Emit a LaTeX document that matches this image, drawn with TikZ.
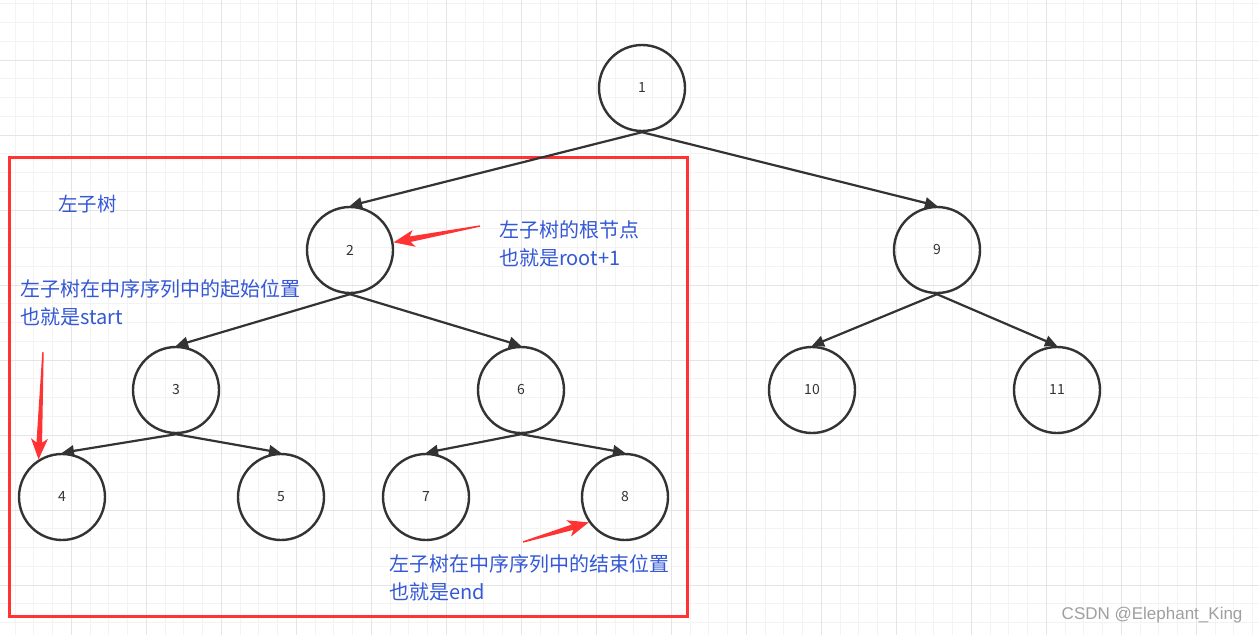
\documentclass[tikz,border=0pt]{standalone}
\usepackage{fontspec}
\setmainfont{Noto Sans CJK SC}
\newfontfamily\markfont{Liberation Sans}
\usetikzlibrary{arrows.meta,calc}
\definecolor{lineGray}{RGB}{51,51,51}
\definecolor{boxRed}{RGB}{255,51,51}
\definecolor{noteBlue}{RGB}{52,88,214}
\definecolor{gridMinor}{RGB}{243,243,243}
\definecolor{gridMajor}{RGB}{229,229,229}

% tapered red pointer from a free end to a point on a node
\newcommand{\hintarrow}[2]{%
  \fill[boxRed] let \p1=(#1), \p2=(#2),
    \n1={atan2(\y2-\y1,\x2-\x1)}, \n2={veclen(\x2-\x1,\y2-\y1)} in
    [shift={(\p1)}, rotate=\n1]
    (0,0.7) -- ({\n2-17},2.8) -- ({\n2-21},8.5) -- (\n2,0)
    -- ({\n2-21},-8.5) -- ({\n2-17},-2.8) -- (0,-0.7) -- cycle;}

\begin{document}
\begin{tikzpicture}[x=1pt,y=-1pt,
    gridthin/.style={gridMinor, line width=1pt},
    gridthick/.style={gridMajor, line width=1pt},
    treenode/.style={circle, draw=lineGray, line width=2.4pt, minimum size=86pt,
      inner sep=0pt, text=lineGray, font=\fontsize{14}{16}\selectfont},
    treeedge/.style={lineGray, line width=2.2pt, -{Triangle[length=12pt,width=11pt]}},
    notetext/.style={text=noteBlue, font=\fontsize{20}{28}\selectfont,
      align=left, inner sep=0pt}]
  \useasboundingbox (0,0) rectangle (1259,635);
  \fill[white] (0,0) rectangle (1259,635);

  % background grid
  \foreach \i in {0,...,66}
    \draw[gridthin] ({15.05+18.75*\i},0) -- ({15.05+18.75*\i},635);
  \foreach \i in {0,...,33}
    \draw[gridthin] (0,{3.75+18.75*\i}) -- (1259,{3.75+18.75*\i});
  \foreach \i in {0,...,15}
    \draw[gridthick] ({71.3+75*\i},0) -- ({71.3+75*\i},635);
  \foreach \i in {0,...,7}
    \draw[gridthick] (0,{60+75*\i}) -- (1259,{60+75*\i});

  % left subtree frame
  \draw[boxRed, line width=3pt] (9,157) rectangle (687,616);

  % tree
  \node[treenode] (n1) at (642,88) {1};
  \node[treenode] (n2) at (350,250) {2};
  \node[treenode] (n9) at (937,250) {9};
  \node[treenode] (n3) at (176,390) {3};
  \node[treenode] (n6) at (521,390) {6};
  \node[treenode] (n10) at (812,390) {10};
  \node[treenode] (n11) at (1057,390) {11};
  \node[treenode] (n4) at (62,497) {4};
  \node[treenode] (n5) at (281,497) {5};
  \node[treenode] (n7) at (426,497) {7};
  \node[treenode] (n8) at (625,497) {8};

  \draw[treeedge] (n1.south) -- (n2.north);
  \draw[treeedge] (n1.south) -- (n9.north);
  \draw[treeedge] (n2.south) -- (n3.north);
  \draw[treeedge] (n2.south) -- (n6.north);
  \draw[treeedge] (n9.south) -- (n10.north);
  \draw[treeedge] (n9.south) -- (n11.north);
  \draw[treeedge] (n3.south) -- (n4.north);
  \draw[treeedge] (n3.south) -- (n5.north);
  \draw[treeedge] (n6.south) -- (n7.north);
  \draw[treeedge] (n6.south) -- (n8.north);

  % notes
  \node[notetext, font=\fontsize{19.5}{28}\selectfont, anchor=west] (leftlabel) at (58,204) {左子树};
  \node[notetext, anchor=west] (rootnote) at (499,244) {左子树的根节点\\也就是root+1};
  \node[notetext, anchor=west] (startnote) at (20,303) {左子树在中序序列中的起始位置\\也就是start};
  \node[notetext, anchor=west] (endnote) at (389,578) {左子树在中序序列中的结束位置\\也就是end};

  % red pointers
  \coordinate (rootTail) at (480,226);
  \coordinate (startTail) at (43,352);
  \coordinate (endTail) at (523,542);
  \hintarrow{rootTail}{n2.10}
  \hintarrow{startTail}{n4.122}
  \hintarrow{endTail}{n8.215}

  \node[anchor=east, text=gray!75, font=\markfont\fontsize{17}{20}\selectfont] (mark)
    at (1246,615) {CSDN @Elephant\_King};
\end{tikzpicture}
\end{document}
